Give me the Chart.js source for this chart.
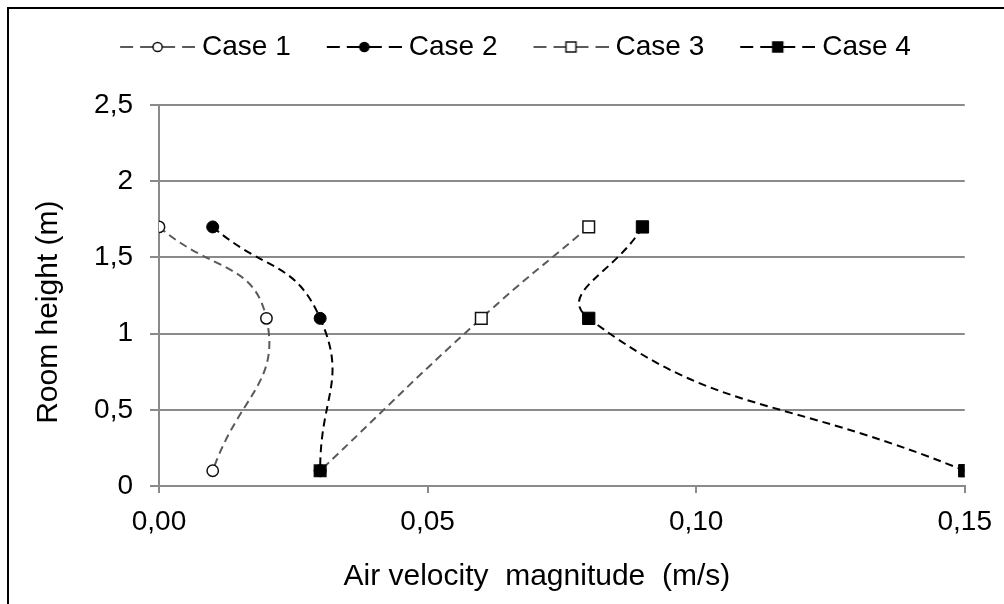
<!DOCTYPE html>
<html><head><meta charset="utf-8">
<script src="https://cdn.jsdelivr.net/npm/chart.js@4/dist/chart.umd.min.js"></script>
<style>html,body{margin:0;padding:0;background:#fff;overflow:hidden}canvas{display:block}</style>
</head><body>
<canvas id="c" width="1004" height="604"></canvas>
<script>
// ---- data ----
const seriesNames = ['Case 1', 'Case 2', 'Case 3', 'Case 4'];
const heights = [1.7, 1.1, 0.1];
const case1Velocity = [0.00, 0.02, 0.01];
const case2Velocity = [0.01, 0.03, 0.03];
const case3Velocity = [0.08, 0.06, 0.03];
const case4Velocity = [0.09, 0.08, 0.15];
const xTickLabels = ['0,00', '0,05', '0,10', '0,15'];
const yTickLabels = ['0', '0,5', '1', '1,5', '2', '2,5'];
const xTitle = 'Air velocity  magnitude  (m/s)';
const yTitle = 'Room height (m)';

// ---- style ----
const FONT = '"Liberation Sans", Arial, sans-serif';
const FS = 28;
const TFS = 30;
const GRID = '#8a8a8a';
const GREYLINE = '#5a5a5a';
const DASH = [8, 5];
const LEG_W = 94;            // pointStyleWidth
const LEG_IMG_W = LEG_W + FS - 14;
const PAD_L = 34, PAD_R = 33, PAD_T = 23;

function pts(xs) { return xs.map((x, i) => ({x: x, y: heights[i]})); }

function legendImage(lineColor, shape, fill, stroke) {
  const c = document.createElement('canvas');
  c.width = LEG_IMG_W; c.height = 20;
  const g = c.getContext('2d');
  const x0 = LEG_IMG_W - 75, x1 = LEG_IMG_W, cy = 10, cx = x0 + 37.5;
  g.strokeStyle = lineColor; g.lineWidth = 2; g.setLineDash([13, 7]);
  g.beginPath(); g.moveTo(x0, cy); g.lineTo(cx, cy); g.stroke();
  g.beginPath(); g.moveTo(x1, cy); g.lineTo(cx, cy); g.stroke();
  g.setLineDash([]);
  g.fillStyle = fill; g.strokeStyle = stroke; g.lineWidth = 1.5;
  g.beginPath();
  if (shape === 'circle') g.arc(cx, cy, 4.6, 0, Math.PI * 2);
  else g.rect(cx - 5, cy - 5, 10, 10);
  g.fill(); g.stroke();
  return c;
}
const legendImgs = [
  legendImage(GREYLINE, 'circle', '#fff', '#111'),
  legendImage('#000', 'circle', '#000', '#000'),
  legendImage(GREYLINE, 'rect', '#fff', '#111'),
  legendImage('#000', 'rect', '#000', '#000')
];

const framePlugin = {
  id: 'frame',
  beforeDraw(chart) {
    const c = chart.ctx;
    c.save();
    c.fillStyle = '#fff'; c.fillRect(0, 0, chart.width, chart.height);
    c.strokeStyle = '#000'; c.lineWidth = 2;
    c.beginPath(); c.moveTo(8, chart.height + 10); c.lineTo(8, 8); c.lineTo(chart.width + 10, 8); c.stroke();
    c.restore();
  }
};

const sameAsCase2 = (ctx) => case2Velocity[ctx.dataIndex] === case3Velocity[ctx.dataIndex];

new Chart(document.getElementById('c'), {
  type: 'scatter',
  data: {
    datasets: [
      {label: seriesNames[0], data: pts(case1Velocity), showLine: true, borderColor: GREYLINE, borderWidth: 2, borderDash: DASH,
       pointStyle: 'circle', pointRadius: 5.7, pointBorderWidth: 1.5, pointBackgroundColor: '#fff', pointBorderColor: '#111'},
      {label: seriesNames[1], data: pts(case2Velocity), showLine: true, borderColor: '#000', borderWidth: 2, borderDash: DASH,
       pointStyle: 'circle', pointRadius: 6, pointBorderWidth: 1, pointBackgroundColor: '#000', pointBorderColor: '#000'},
      {label: seriesNames[2], data: pts(case3Velocity), showLine: true, borderColor: GREYLINE, borderWidth: 2, borderDash: DASH,
       pointStyle: 'rect', pointRadius: 8.2, pointBorderWidth: 1.5,
       pointBackgroundColor: (ctx) => sameAsCase2(ctx) ? '#000' : '#fff', pointBorderColor: '#111'},
      {label: seriesNames[3], data: pts(case4Velocity), showLine: true, borderColor: '#000', borderWidth: 2, borderDash: DASH,
       pointStyle: 'rect', pointRadius: 8.7, pointBorderWidth: 1, pointBackgroundColor: '#000', pointBorderColor: '#000'}
    ]
  },
  options: {
    responsive: false,
    animation: false,
    devicePixelRatio: 1,
    elements: {line: {tension: 0.5, fill: false}},
    layout: {padding: {left: PAD_L, right: PAD_R, top: PAD_T, bottom: 0}},
    plugins: {
      tooltip: {enabled: false},
      subtitle: {display: true, text: ' ', position: 'top', weight: 500,
                 font: {family: FONT, size: 10}, padding: {top: 22, bottom: 0}},
      legend: {
        position: 'top',
        labels: {
          usePointStyle: true,
          pointStyleWidth: LEG_W,
          padding: 10,
          color: '#000',
          font: {family: FONT, size: FS},
          generateLabels(chart) {
            const items = Chart.defaults.plugins.legend.labels.generateLabels(chart);
            items.forEach((it, i) => { it.pointStyle = legendImgs[i]; });
            return items;
          }
        }
      }
    },
    scales: {
      x: {
        type: 'linear', min: 0, max: 0.15,
        ticks: {stepSize: 0.05, color: '#000', font: {family: FONT, size: FS}, padding: 12,
                maxRotation: 0, callback: (v, i) => xTickLabels[i]},
        grid: {drawOnChartArea: false, drawTicks: true, tickLength: 7, color: GRID, lineWidth: 2},
        border: {display: true, color: GRID, width: 2},
        title: {display: true, text: xTitle + '      ', color: '#000', font: {family: FONT, size: TFS}, padding: {top: 0, bottom: 9}},
        afterFit(s) { s.height = 118; }
      },
      y: {
        type: 'linear', min: 0, max: 2.5,
        ticks: {stepSize: 0.5, color: '#000', font: {family: FONT, size: FS}, padding: 17,
                callback: (v, i) => yTickLabels[i]},
        grid: {drawOnChartArea: true, drawTicks: true, tickLength: 9, color: GRID, lineWidth: 2},
        border: {display: true, color: GRID, width: 2},
        title: {display: true, text: yTitle + '    ', color: '#000', font: {family: FONT, size: TFS}, padding: {top: -3.5, bottom: 0}},
        afterFit(s) { s.width = 159 - PAD_L; }
      }
    }
  },
  plugins: [framePlugin]
});
</script>
</body></html>
